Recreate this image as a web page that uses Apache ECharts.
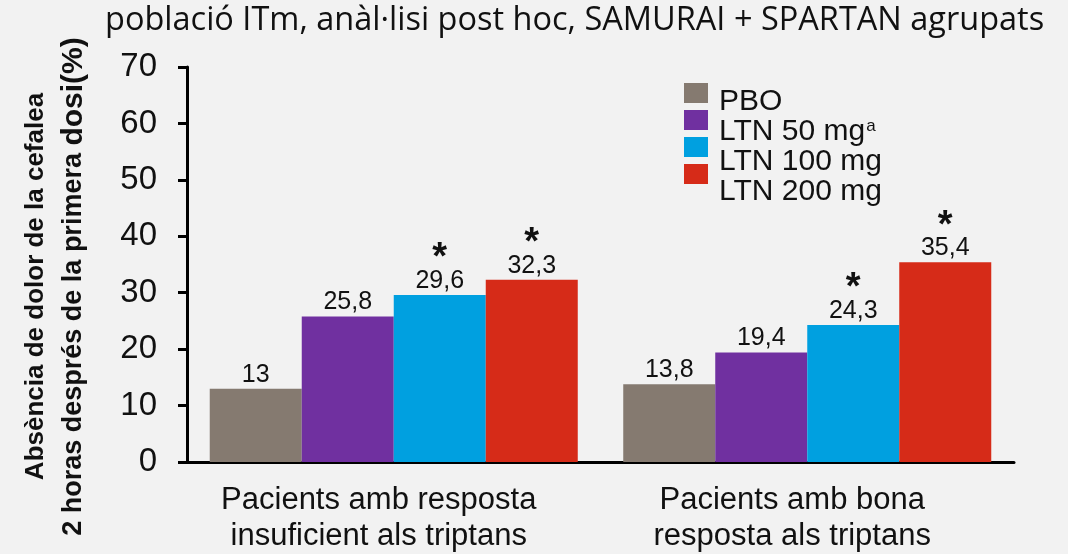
<!DOCTYPE html>
<html>
<head>
<meta charset="utf-8">
<script src="https://cdn.jsdelivr.net/npm/echarts@6/dist/echarts.min.js"></script>
<style>
  html, body { margin: 0; padding: 0; background: #f2f2f2; }
  #chart { width: 1068px; height: 554px; }
</style>
</head>
<body>
<div id="chart"></div>
<script>
var groups = ['Pacients amb resposta\ninsuficient als triptans', 'Pacients amb bona\nresposta als triptans'];
var seriesNames = ['PBO', 'LTN 50 mg', 'LTN 100 mg', 'LTN 200 mg'];
var pbo = [13, 13.8];
var ltn50 = [25.8, 19.4];
var ltn100 = [29.6, 24.3];
var ltn200 = [32.3, 35.4];
// * = significant vs PBO
var sig100 = [true, true];
var sig200 = [true, true];
var yTicks = [0, 10, 20, 30, 40, 50, 60, 70];

(function() {
  var chart = echarts.init(document.getElementById('chart'));
  var colors = ['#857a70', '#7030a0', '#00a0e0', '#d62b18'];
  var font = '"Liberation Sans", Arial, sans-serif';
  var values = [pbo, ltn50, ltn100, ltn200];
  var sigs = [[false, false], [false, false], sig100, sig200];

  function fmt(v) {
    return String(v).replace('.', ',');
  }

  var series = seriesNames.map(function(name, i) {
    return {
      name: name,
      type: 'bar',
      data: values[i],
      barGap: 0,
      barCategoryGap: '11%',
      itemStyle: { color: colors[i] },
      label: {
        show: true,
        position: 'top',
        distance: 1,
        fontFamily: font,
        color: '#111',
        formatter: function(p) {
          var txt = '{v|' + fmt(p.value) + '}';
          return sigs[i][p.dataIndex] ? '{s|*}\n' + txt : txt;
        },
        rich: {
          v: { fontSize: 25, lineHeight: 26, fontFamily: font, color: '#111' },
          s: { fontSize: 38, lineHeight: 24, fontWeight: 'bold', fontFamily: font, color: '#111', padding: [0, 0, -6, 0] }
        }
      }
    };
  });

  var option = {
    backgroundColor: '#f2f2f2',
    animation: false,
    title: {
      text: 'població ITm, anàl·lisi post hoc, SAMURAI + SPARTAN agrupats',
      left: 100,
      top: -1,
      textStyle: { fontFamily: '"Open Sans", sans-serif', fontSize: 32.5, fontWeight: 'normal', color: '#111' }
    },
    legend: [{
      orient: 'vertical',
      left: 679,
      top: 78,
      icon: 'rect',
      itemWidth: 24,
      itemHeight: 20,
      itemGap: 7,
      data: seriesNames,
      formatter: function() { return ''; },
      textStyle: { fontSize: 10 }
    }, {
      orient: 'vertical',
      left: 709,
      top: 82,
      itemWidth: 0,
      itemHeight: 0,
      itemGap: 0,
      itemStyle: { opacity: 0 },
      data: seriesNames,
      formatter: function(name) {
        if (name === 'LTN 50 mg') return '{n|LTN 50 mg}{s|a}';
        return '{n|' + name + '}';
      },
      textStyle: {
        rich: {
          n: { fontSize: 30, lineHeight: 26, fontFamily: font, color: '#111' },
          s: { fontSize: 17, lineHeight: 26, fontFamily: font, color: '#111', padding: [0, 0, 12, 1] }
        }
      }
    }],
    grid: { left: 187, right: 54, top: 67, bottom: 92 },
    xAxis: {
      type: 'category',
      data: groups,
      axisLine: { lineStyle: { color: '#000', width: 3 } },
      axisTick: { show: false },
      axisLabel: { fontFamily: font, fontSize: 31, lineHeight: 36, color: '#111', margin: 20, padding: [0, 30, 0, 0] }
    },
    yAxis: {
      type: 'value',
      min: yTicks[0],
      max: yTicks[yTicks.length - 1],
      interval: 10,
      splitLine: { show: false },
      axisLine: { show: true, lineStyle: { color: '#000', width: 3 } },
      axisTick: { show: true, length: 9, lineStyle: { color: '#000', width: 3 } },
      axisLabel: { fontFamily: font, fontSize: 33, color: '#111', margin: 30 },
      name: '{a|Absència de dolor de la cefalea}\n{b|2 horas després de la primera }{c|dosi(%)}',
      nameLocation: 'middle',
      nameRotate: 90,
      nameGap: 94,
      nameTextStyle: {
        padding: [0, 44, 0, 0],
        rich: {
          a: { fontSize: 26, lineHeight: 38, fontWeight: 'bold', fontFamily: font, color: '#111' },
          b: { fontSize: 27, lineHeight: 38, fontWeight: 'bold', fontFamily: font, color: '#111' },
          c: { fontSize: 30, lineHeight: 38, fontWeight: 'bold', fontFamily: font, color: '#111' }
        }
      }
    },
    series: series
  };
  chart.setOption(option);
})();
</script>
</body>
</html>
